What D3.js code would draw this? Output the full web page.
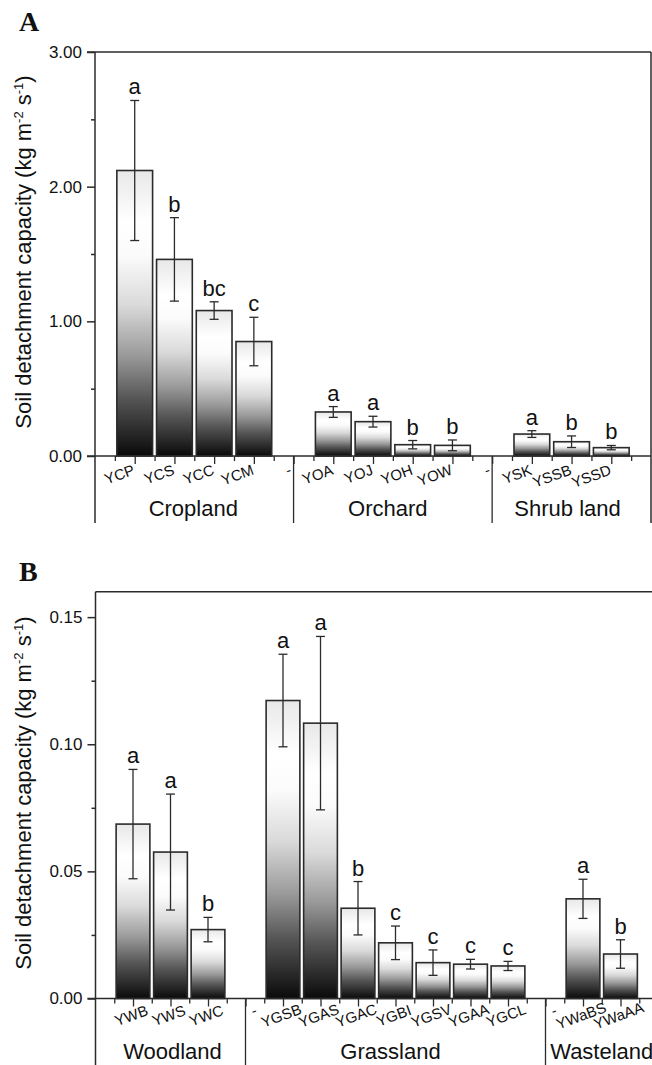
<!DOCTYPE html>
<html><head><meta charset="utf-8">
<script src="https://cdn.jsdelivr.net/npm/d3@7"></script>
<style>
body{margin:0;background:#fff}
svg{display:block}
text{font-family:"Liberation Sans",Arial,sans-serif;fill:#111}
</style>
</head><body>
<svg id="chart" width="652" height="1065"></svg>
<script>
// ---------- Panel A data ----------
const groupNamesA = ["Cropland", "Orchard", "Shrub land"];
const groupSizesA = [4, 4, 3];
const categoriesA = ["YCP", "YCS", "YCC", "YCM", "YOA", "YOJ", "YOH", "YOW", "YSK", "YSSB", "YSSD"];
const meansA  = [2.12, 1.46, 1.08, 0.85, 0.327, 0.255, 0.084, 0.079, 0.163, 0.106, 0.062];
const errorsA = [0.52, 0.31, 0.065, 0.18, 0.040, 0.040, 0.031, 0.040, 0.025, 0.043, 0.016];
const lettersA = ["a", "b", "bc", "c", "a", "a", "b", "b", "a", "b", "b"];
const yTicksA = [0, 1, 2, 3];
const yTickLabelsA = ["0.00", "1.00", "2.00", "3.00"];
const yMinorA = [0.5, 1.5, 2.5];
const yMaxA = 3;

// ---------- Panel B data ----------
const groupNamesB = ["Woodland", "Grassland", "Wasteland"];
const groupSizesB = [3, 7, 2];
const categoriesB = ["YWB", "YWS", "YWC", "YGSB", "YGAS", "YGAC", "YGBI", "YGSV", "YGAA", "YGCL", "YWaBS", "YWaAA"];
const meansB  = [0.0686, 0.0576, 0.0271, 0.1172, 0.1083, 0.0355, 0.0219, 0.0141, 0.0135, 0.0128, 0.0392, 0.0175];
const errorsB = [0.0215, 0.0228, 0.0048, 0.0182, 0.0341, 0.0105, 0.0066, 0.0050, 0.0019, 0.0018, 0.0077, 0.0056];
const lettersB = ["a", "a", "b", "a", "a", "b", "c", "c", "c", "c", "a", "b"];
const yTicksB = [0, 0.05, 0.10, 0.15];
const yTickLabelsB = ["0.00", "0.05", "0.10", "0.15"];
const yMinorB = [0.025, 0.075, 0.125];
const yMaxB = 0.16;

const gapLabel = "-";

const svg = d3.select("#chart");
const defs = svg.append("defs");
const grad = defs.append("linearGradient").attr("id", "barGrad")
  .attr("x1", 0).attr("y1", 0).attr("x2", 0).attr("y2", 1);
[[0, "#e8e8e8"], [0.18, "#ffffff"], [0.3, "#fbfbfb"], [0.47, "#dadada"], [0.65, "#999999"], [0.8, "#555555"], [1, "#0a0a0a"]]
  .forEach(([o, c]) => grad.append("stop").attr("offset", o).attr("stop-color", c));

const LINE = "#2b2b2b";

function drawPanel(p) {
  // slot positions: groups separated by one empty slot
  const slots = [], seps = [-1], groupSpans = [];
  let s = 0;
  p.groupSizes.forEach(n => {
    const start = s;
    for (let k = 0; k < n; k++) slots.push(s++);
    seps.push(s);
    groupSpans.push([start - 1, s]);
    s++;
  });
  const last = seps[seps.length - 1];
  const x = d3.scaleLinear().domain([-1, last]).range([p.x0, p.x1]);
  const y = d3.scaleLinear().domain([0, p.yMax]).range([p.yBase, p.yTop]);
  const step = x(1) - x(0);
  const bw = step * 0.9;

  const g = svg.append("g");

  // bars
  g.selectAll("rect.bar").data(p.means).join("rect").attr("class", "bar")
    .attr("x", (d, i) => x(slots[i]) - bw / 2)
    .attr("y", d => y(d))
    .attr("width", bw)
    .attr("height", d => y(0) - y(d))
    .attr("fill", "url(#barGrad)")
    .attr("stroke", LINE).attr("stroke-width", 1.6);

  // error bars
  const eb = g.selectAll("g.eb").data(p.means).join("g").attr("class", "eb")
    .attr("stroke", LINE).attr("stroke-width", 1.3);
  eb.append("line")
    .attr("x1", (d, i) => x(slots[i])).attr("x2", (d, i) => x(slots[i]))
    .attr("y1", (d, i) => y(d + p.errors[i])).attr("y2", (d, i) => y(d - p.errors[i]));
  [1, -1].forEach(sg => {
    eb.append("line")
      .attr("x1", (d, i) => x(slots[i]) - 4.5).attr("x2", (d, i) => x(slots[i]) + 4.5)
      .attr("y1", (d, i) => y(d + sg * p.errors[i])).attr("y2", (d, i) => y(d + sg * p.errors[i]));
  });

  // significance letters
  g.selectAll("text.sig").data(p.means).join("text").attr("class", "sig")
    .attr("x", (d, i) => x(slots[i]))
    .attr("y", (d, i) => y(d + p.errors[i]) - 6)
    .attr("text-anchor", "middle")
    .attr("font-size", 22)
    .text((d, i) => p.letters[i]);

  // y axis major
  const yAx = g.append("g").attr("transform", `translate(${x(-1)},0)`)
    .call(d3.axisLeft(y).tickValues(p.yTicks).tickFormat((d, i) => p.yTickLabels[i]).tickSize(8).tickSizeOuter(0).tickPadding(5));
  yAx.select(".domain").remove();
  yAx.selectAll("line").attr("stroke", LINE).attr("stroke-width", 1.5);
  yAx.selectAll("text").attr("font-size", 17).attr("fill", "#111").style("font-family", '"Liberation Sans",Arial,sans-serif');
  const yMin = g.append("g").attr("transform", `translate(${x(-1)},0)`)
    .call(d3.axisLeft(y).tickValues(p.yMinor).tickFormat("").tickSize(4).tickSizeOuter(0));
  yMin.select(".domain").remove();
  yMin.selectAll("line").attr("stroke", LINE).attr("stroke-width", 1.5);

  // x axis ticks
  const majors = d3.range(0, last, 1);
  const minors = d3.range(-0.5, last, 1);
  const xMaj = g.append("g").attr("transform", `translate(0,${p.yBase})`)
    .call(d3.axisBottom(x).tickValues(majors).tickFormat("").tickSize(8).tickSizeOuter(0));
  xMaj.select(".domain").remove();
  xMaj.selectAll("line").attr("stroke", LINE).attr("stroke-width", 1.3);
  const xMin = g.append("g").attr("transform", `translate(0,${p.yBase})`)
    .call(d3.axisBottom(x).tickValues(minors).tickFormat("").tickSize(5).tickSizeOuter(0));
  xMin.select(".domain").remove();
  xMin.selectAll("line").attr("stroke", LINE).attr("stroke-width", 1.3);

  // category labels (rotated)
  g.selectAll("text.cat").data(p.categories).join("text").attr("class", "cat")
    .attr("font-size", 15)
    .attr("text-anchor", p.labelAnchor)
    .attr("transform", (d, i) => `translate(${x(slots[i]) + p.labelDx},${p.yBase + p.labelDy}) rotate(-20)`)
    .text(d => d);
  // gap labels
  g.selectAll("text.gap").data(seps.slice(1, -1)).join("text").attr("class", "gap")
    .attr("font-size", 15)
    .attr("text-anchor", p.labelAnchor)
    .attr("transform", d => `translate(${x(d) + p.gapDx},${p.yBase + p.gapDy}) rotate(-20)`)
    .text(gapLabel);

  // frame: baseline, top, left axis, separators
  g.append("line").attr("x1", x(-1) - 8).attr("x2", x(last)).attr("y1", y(0)).attr("y2", y(0))
    .attr("stroke", LINE).attr("stroke-width", 1.5);
  g.append("line").attr("x1", x(-1) - p.topTickLen).attr("x2", x(last)).attr("y1", p.yTop).attr("y2", p.yTop)
    .attr("stroke", LINE).attr("stroke-width", 1.5);
  g.append("line").attr("x1", x(-1)).attr("x2", x(-1)).attr("y1", p.yTop).attr("y2", p.sepBottom)
    .attr("stroke", LINE).attr("stroke-width", 1.5);
  g.append("line").attr("x1", x(last)).attr("x2", x(last)).attr("y1", p.yTop).attr("y2", p.sepBottom)
    .attr("stroke", LINE).attr("stroke-width", 1.5);
  g.selectAll("line.sep").data(seps.slice(1, -1)).join("line").attr("class", "sep")
    .attr("x1", d => x(d)).attr("x2", d => x(d))
    .attr("y1", y(0)).attr("y2", p.sepBottom)
    .attr("stroke", LINE).attr("stroke-width", 1.3);

  // group labels
  g.selectAll("text.grp").data(p.groupNames).join("text").attr("class", "grp")
    .attr("x", (d, i) => (x(groupSpans[i][0]) + x(groupSpans[i][1])) / 2 + p.groupDx[i])
    .attr("y", p.yBase + 60)
    .attr("text-anchor", "middle")
    .attr("font-size", 22)
    .text(d => d);

  // y title
  const t = g.append("text")
    .attr("transform", `translate(31,${(p.yBase + p.yTop) / 2 - 2}) rotate(-90)`)
    .attr("text-anchor", "middle").attr("font-size", 22);
  t.append("tspan").text("Soil detachment capacity (kg m");
  t.append("tspan").attr("dy", -8).attr("font-size", 13).text("-2");
  t.append("tspan").attr("dy", 8).text(" s");
  t.append("tspan").attr("dy", -8).attr("font-size", 13).text("-1");
  t.append("tspan").attr("dy", 8).text(")");

  // panel letter
  g.append("text").attr("x", 19).attr("y", p.letterY)
    .style("font-family", '"Liberation Serif","Times New Roman",serif')
    .attr("font-weight", "bold").attr("font-size", 28).text(p.panel);
}

drawPanel({
  panel: "A", letterY: 31,
  groupNames: groupNamesA, groupSizes: groupSizesA, categories: categoriesA,
  means: meansA, errors: errorsA, letters: lettersA,
  yTicks: yTicksA, yTickLabels: yTickLabelsA, yMinor: yMinorA, yMax: yMaxA,
  x0: 95, x1: 651, yBase: 456, yTop: 52, sepBottom: 523, topTickLen: 8,
  labelAnchor: "end", labelDx: 1, labelDy: 18, gapDx: -1, gapDy: 18,
  groupDx: [-1, -5, -4]
});

drawPanel({
  panel: "B", letterY: 581,
  groupNames: groupNamesB, groupSizes: groupSizesB, categories: categoriesB,
  means: meansB, errors: errorsB, letters: lettersB,
  yTicks: yTicksB, yTickLabels: yTickLabelsB, yMinor: yMinorB, yMax: yMaxB,
  x0: 95.5, x1: 658, yBase: 998.5, yTop: 591.7, sepBottom: 1065, topTickLen: 0,
  labelAnchor: "middle", labelDx: 0, labelDy: 22, gapDx: 10, gapDy: 17,
  groupDx: [2, -5, 0]
});
</script>
</body></html>
